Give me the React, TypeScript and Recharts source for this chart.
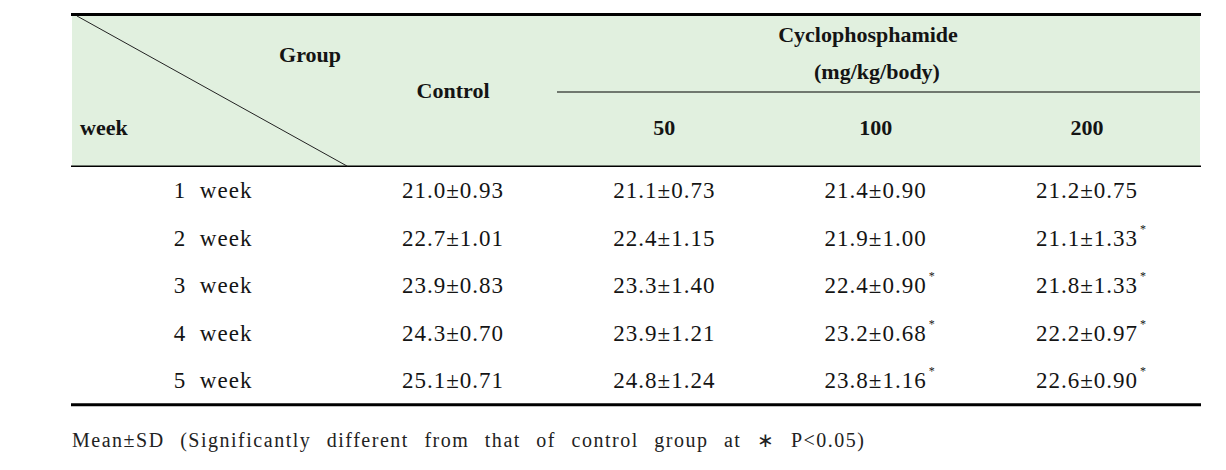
import React from 'react';
import { ScatterChart, Scatter, XAxis, YAxis } from 'recharts';

// ---- data ----
const groups = ['Control', '50', '100', '200'];
const weekLabels = ['1  week', '2  week', '3  week', '4  week', '5  week'];

const controlMean = [21.0, 22.7, 23.9, 24.3, 25.1];
const controlSD = [0.93, 1.01, 0.83, 0.70, 0.71];
const controlSig = [false, false, false, false, false];

const cp50Mean = [21.1, 22.4, 23.3, 23.9, 24.8];
const cp50SD = [0.73, 1.15, 1.40, 1.21, 1.24];
const cp50Sig = [false, false, false, false, false];

const cp100Mean = [21.4, 21.9, 22.4, 23.2, 23.8];
const cp100SD = [0.90, 1.00, 0.90, 0.68, 1.16];
const cp100Sig = [false, false, true, true, true];

const cp200Mean = [21.2, 21.1, 21.8, 22.2, 22.6];
const cp200SD = [0.75, 1.33, 1.33, 0.97, 0.90];
const cp200Sig = [false, true, true, true, true];

const headerGroupLabel = 'Group';
const headerWeekLabel = 'week';
const headerDrugLine1 = 'Cyclophosphamide';
const headerDrugLine2 = '(mg/kg/body)';
const footnote = 'Mean\u00b1SD (Significantly different from that of control group at \u2217 P<0.05)';

const means = [controlMean, cp50Mean, cp100Mean, cp200Mean];
const sds = [controlSD, cp50SD, cp100SD, cp200SD];
const sigs = [controlSig, cp50Sig, cp100Sig, cp200Sig];

const cells = weekLabels.flatMap((w, i) =>
  groups.map((g, j) => ({ week: w, group: g, mean: means[j][i], sd: sds[j][i], sig: sigs[j][i] }))
);

// ---- layout ----
const W = 1210;
const H = 450;
const PLOT_LEFT = 339.4;
const PLOT_RIGHT = 1184.6;
const PLOT_TOP = 158.25;
const PLOT_BOTTOM = 395.75;

const SERIF = "'Liberation Serif', 'Times New Roman', serif";
const INK = '#141414';
const HEADER_BG = '#e1f0df';

const CellText = (props: any) => {
  const { cx, cy, payload } = props;
  if (cx == null || cy == null) return null;
  return (
    <g>
      <text x={cx} y={cy + 8} textAnchor="middle" fontFamily={SERIF} fontSize={23} letterSpacing={1} fill={INK}>
        {payload.mean.toFixed(1)}±{payload.sd.toFixed(2)}
      </text>
      {payload.sig ? (
        <text x={cx + 53} y={cy - 5} textAnchor="start" fontFamily={SERIF} fontSize={12} fill={INK}>*</text>
      ) : null}
    </g>
  );
};

const HeaderTick = (props: any) => {
  const { x, y, payload } = props;
  const isControl = payload.value === 'Control';
  return (
    <text x={x} y={y + (isControl ? -68 : -31)} textAnchor="middle" fontFamily={SERIF} fontWeight="bold" fontSize={22} fill={INK}>
      {payload.value}
    </text>
  );
};

const WeekTick = (props: any) => {
  const { x, y, payload } = props;
  return (
    <text x={x} y={y + 8} textAnchor="end" fontFamily={SERIF} fontSize={23} letterSpacing={1} fill={INK} style={{ whiteSpace: 'pre' }}>
      {payload.value}
    </text>
  );
};

export default function App() {
  return (
    <div style={{ position: 'relative', width: W, height: H }}>
      <svg width={W} height={H} style={{ position: 'absolute', left: 0, top: 0 }}>
        <rect x={64} y={8} width={1128} height={PLOT_TOP - 8} fill={HEADER_BG} />
        <line x1={63} x2={1193} y1={6.5} y2={6.5} stroke="#000" strokeWidth={3} />
        <line x1={549} x2={1192} y1={84} y2={84} stroke="#000" strokeWidth={1.2} />
        <line x1={63} x2={1193} y1={PLOT_TOP} y2={PLOT_TOP} stroke="#000" strokeWidth={1.4} />
        <line x1={69} y1={8} x2={PLOT_LEFT} y2={PLOT_TOP} stroke="#222" strokeWidth={1} />
        <line x1={63} x2={1193} y1={PLOT_BOTTOM + 1} y2={PLOT_BOTTOM + 1} stroke="#000" strokeWidth={3} />
        <text x={302} y={54} textAnchor="middle" fontFamily={SERIF} fontWeight="bold" fontSize={22} fill={INK}>{headerGroupLabel}</text>
        <text x={72} y={127} textAnchor="start" fontFamily={SERIF} fontWeight="bold" fontSize={22} fill={INK}>{headerWeekLabel}</text>
        <text x={860} y={34} textAnchor="middle" fontFamily={SERIF} fontWeight="bold" fontSize={22} fill={INK}>{headerDrugLine1}</text>
        <text x={869} y={71} textAnchor="middle" fontFamily={SERIF} fontWeight="bold" fontSize={22} fill={INK}>{headerDrugLine2}</text>
        <text x={64} y={439} textAnchor="start" fontFamily={SERIF} fontSize={20} wordSpacing={9} fill="#222" textLength={792} lengthAdjust="spacing">{footnote}</text>
      </svg>
      <div style={{ position: 'absolute', left: 0, top: 0 }}>
        <ScatterChart width={W} height={H} margin={{ top: 0, right: W - PLOT_RIGHT, bottom: H - PLOT_BOTTOM, left: 0 }}>
          <XAxis
            type="category"
            dataKey="group"
            orientation="top"
            height={PLOT_TOP}
            allowDuplicatedCategory={false}
            axisLine={false}
            tickLine={false}
            tickSize={0}
            tickMargin={0}
            interval={0}
            tick={<HeaderTick />}
          />
          <YAxis
            type="category"
            dataKey="week"
            width={PLOT_LEFT}
            reversed
            allowDuplicatedCategory={false}
            axisLine={false}
            tickLine={false}
            tickSize={0}
            tickMargin={95}
            interval={0}
            tick={<WeekTick />}
          />
          <Scatter data={cells} shape={CellText} isAnimationActive={false} />
        </ScatterChart>
      </div>
    </div>
  );
}
